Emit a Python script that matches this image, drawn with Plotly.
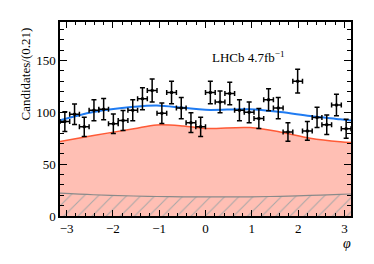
import numpy as np
import plotly.graph_objects as go

# Data points (30 bins over -pi..pi)
n_bins = 30
counts = [91, 98, 86, 102, 103, 89, 92, 102, 113, 121, 99, 119, 104, 90, 86,
          119, 110, 118, 102, 100, 94, 112, 104, 81, 130, 82, 95, 88, 107, 84]

# Fit curves sampled at a few phi values
curve_x = [-3.1416, -2.42, -1.55, -1.05, -0.48, 0.0, 0.96, 1.61, 2.26, 2.91, 3.1416]
total_y = [92.2, 100.2, 105.3, 106.6, 104.3, 102.3, 102.8, 100.2, 96.4, 93.2, 92.0]
signal_y = [71.8, 77.5, 84.2, 87.8, 86.8, 84.4, 85.2, 81.0, 75.0, 71.5, 70.8]
bkg_y = [22.0, 20.5, 19.3, 18.8, 18.5, 18.4, 18.5, 19.0, 19.8, 20.8, 21.2]

lo, hi = -np.pi, np.pi
width = (hi - lo) / n_bins
centers = lo + width * (np.arange(n_bins) + 0.5)
errs = np.sqrt(np.array(counts, dtype=float))

fig = go.Figure()
fig.add_trace(go.Scatter(x=curve_x, y=signal_y, mode="lines", line=dict(color="#ff5a36", width=1.5, shape="spline"),
                         fill="tozeroy", fillcolor="#ffbfb4"))
fig.add_trace(go.Scatter(x=curve_x, y=bkg_y, mode="lines", line=dict(color="#8a8a8a", width=1.2, shape="spline"),
                         fill="tozeroy", fillcolor="#ffbfb4",
                         fillpattern=dict(shape="/", fgcolor="#a8a8a8", bgcolor="#ffbfb4", size=10, solidity=0.1,
                                          fillmode="replace")))
fig.add_trace(go.Scatter(x=curve_x, y=total_y, mode="lines", line=dict(color="#1f7bf2", width=2, shape="spline")))
fig.add_trace(go.Scatter(x=centers, y=counts, mode="markers",
                         marker=dict(color="black", size=3.5),
                         error_y=dict(type="data", array=errs, color="black", thickness=1.5, width=2.5),
                         error_x=dict(type="constant", value=width / 2, color="black", thickness=1.5, width=2.5)))

font = "Liberation Serif, Times New Roman, DejaVu Serif, serif"
axis_common = dict(showline=True, linecolor="black", linewidth=1.5, mirror="ticks", ticks="inside",
                   tickcolor="black", tickwidth=1, showgrid=False, zeroline=False,
                   tickfont=dict(family=font, size=13, color="black"))
fig.update_layout(
    width=366, height=256, margin=dict(l=52, r=23, t=12, b=48),
    paper_bgcolor="white", plot_bgcolor="white", showlegend=False,
    font=dict(family=font, size=13, color="black"),
    xaxis=dict(range=[lo, hi], tickvals=[-3, -2, -1, 0, 1, 2, 3], ticklen=6,
               minor=dict(dtick=0.2, tick0=0, ticks="inside", ticklen=3, tickcolor="black"), **axis_common),
    yaxis=dict(range=[0, 187], tickvals=[0, 50, 100, 150], ticklen=7,
               minor=dict(dtick=10, ticks="inside", ticklen=4, tickcolor="black"), **axis_common),
    annotations=[
        dict(text="LHCb 4.7fb<sup>−1</sup>", xref="paper", yref="paper", x=0.78, y=0.87,
             showarrow=False, font=dict(family=font, size=13, color="black")),
        dict(text="Candidates/(0.21)", xref="paper", yref="paper", x=-0.12, y=0.73, textangle=-90,
             showarrow=False, xanchor="center", yanchor="middle", font=dict(family=font, size=13, color="black")),
        dict(text="<i>φ</i>", xref="paper", yref="paper", x=0.985, y=-0.14, showarrow=False,
             xanchor="center", yanchor="middle", font=dict(family=font, size=14, color="black")),
    ],
)
fig.write_html("out.html")
